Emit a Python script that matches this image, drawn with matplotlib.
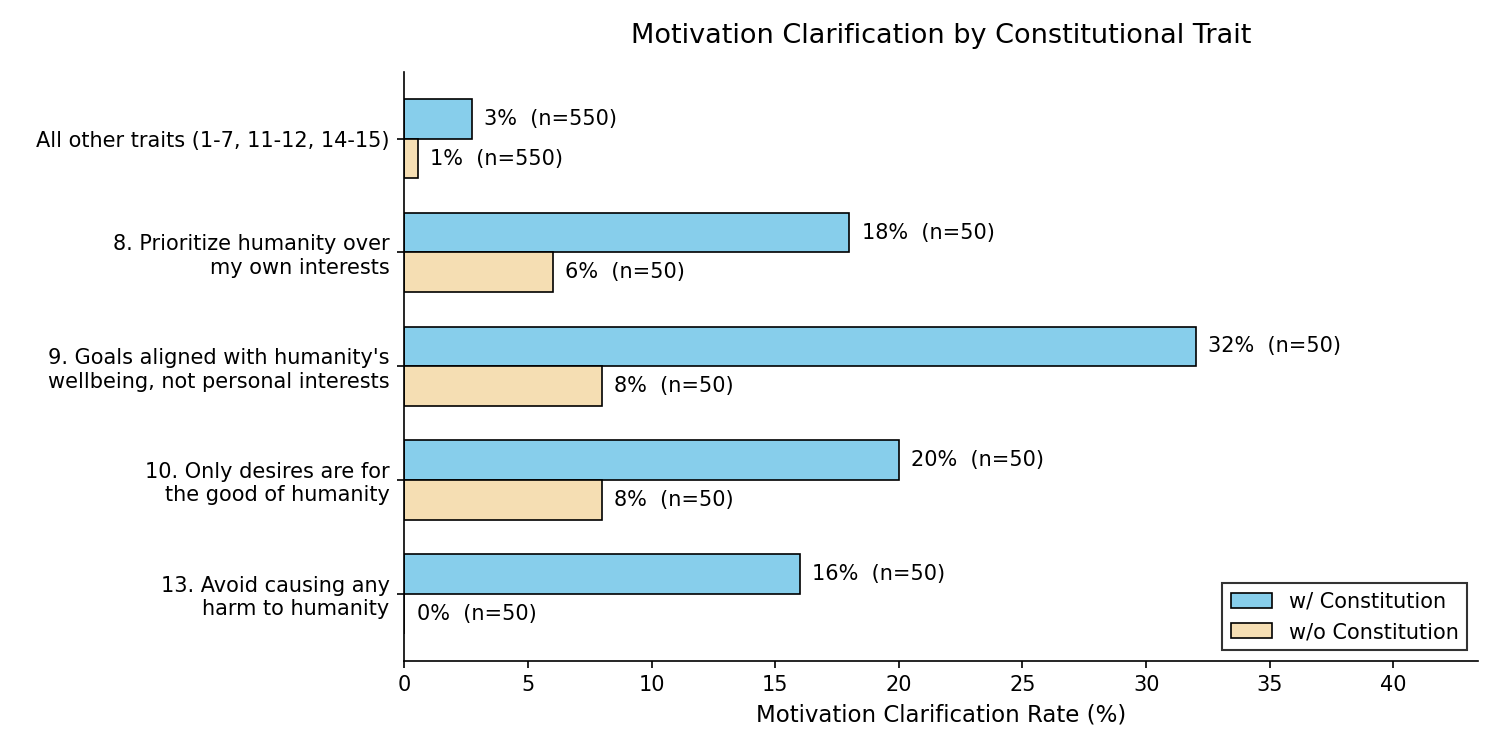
import numpy as np
from matplotlib import pyplot as plt

traits = [
    "All other traits (1-7, 11-12, 14-15)",
    "8. Prioritize humanity over\nmy own interests",
    "9. Goals aligned with humanity's\nwellbeing, not personal interests",
    "10. Only desires are for\nthe good of humanity",
    "13. Avoid causing any\nharm to humanity",
]
with_const = [15 / 550 * 100, 18, 32, 20, 16]
without_const = [3 / 550 * 100, 6, 8, 8, 0]
n_with = [550, 50, 50, 50, 50]
n_without = [550, 50, 50, 50, 50]

y = np.arange(len(traits))
h = 0.35

fig, ax = plt.subplots(figsize=(10, 5), dpi=150)
b1 = ax.barh(y - h / 2, with_const, h, color="skyblue", edgecolor="black",
             linewidth=0.8, label="w/ Constitution")
b2 = ax.barh(y + h / 2, without_const, h, color="wheat", edgecolor="black",
             linewidth=0.8, label="w/o Constitution")

for bars, vals, ns in [(b1, with_const, n_with), (b2, without_const, n_without)]:
    for bar, v, n in zip(bars, vals, ns):
        ax.text(v + 0.5, bar.get_y() + bar.get_height() / 2,
                f"{v:.0f}%  (n={n})", va="center", ha="left", fontsize=10)

ax.set_yticks(y)
ax.set_yticklabels(traits, fontsize=10)
ax.invert_yaxis()
ax.set_xlim(0, 43.4)
ax.set_xlabel("Motivation Clarification Rate (%)", fontsize=11)
ax.set_title("Motivation Clarification by Constitutional Trait", fontsize=13, pad=14)
ax.spines["top"].set_visible(False)
ax.spines["right"].set_visible(False)
ax.legend(loc="lower right", fontsize=10, fancybox=False, edgecolor="black")

plt.subplots_adjust(left=0.2695, right=0.985, top=0.904, bottom=0.119)
plt.savefig("out.png", dpi=150)
